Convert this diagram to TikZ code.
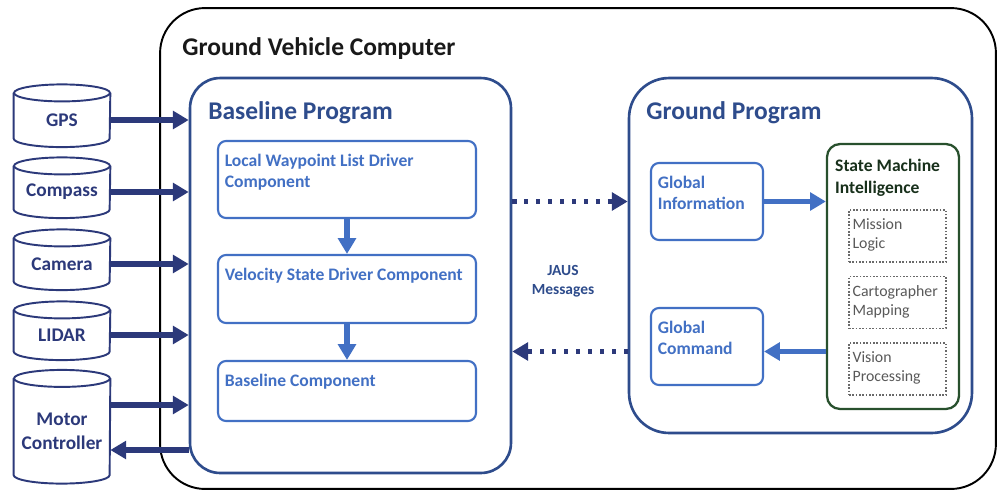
\documentclass[tikz,border=0pt]{standalone}
\usepackage{fontspec}
\setmainfont{Carlito}
\usetikzlibrary{arrows.meta}
\definecolor{navy}{RGB}{44,57,122}
\definecolor{progblue}{RGB}{46,76,140}
\definecolor{compblue}{RGB}{66,112,196}
\definecolor{smigreen}{RGB}{40,80,45}
\definecolor{subgray}{RGB}{105,105,105}

\begin{document}
\begin{tikzpicture}[x=0.02cm,y=-0.02cm]
\tikzstyle{titre}=[inner sep=0pt,anchor=west,font=\fontsize{14.5}{17}\selectfont\bfseries]
\tikzset{cadre/.style={draw=#1,inner sep=0pt},
comp/.style={draw=compblue,line width=1.2pt,rounded corners=0.16cm,inner sep=0pt,minimum height=#1},
comptext/.style={anchor=north west,align=left,inner sep=0pt,xshift=0.15cm,yshift=-0.27cm,text=compblue,font=\fontsize{10}{12}\selectfont\bfseries},
smitext/.style={anchor=north west,align=left,inner sep=0pt,xshift=0.18cm,yshift=-0.31cm,text=smigreen!60!black,font=\fontsize{10}{13}\selectfont\bfseries},
sub/.style={draw=subgray,densely dotted,line width=0.9pt,minimum width=1.94cm,minimum height=1.04cm,inner sep=0pt},
subtext/.style={anchor=north west,align=left,inner sep=0pt,xshift=0.08cm,yshift=-0.19cm,text=subgray!85!black,font=\fontsize{9}{10.8}\selectfont},
capteur/.style={minimum width=1.92cm,minimum height=#1,inner sep=0pt,align=center,text=navy,font=\fontsize{11}{13.6}\selectfont\bfseries},
cyl/.style={draw=navy,line width=1.1pt},
entree/.style={draw=navy,line width=3.6pt,-{Triangle[width=10pt,length=9pt]}},
fleche/.style={draw=compblue,line width=3.4pt,-{Triangle[width=10pt,length=9pt]}},
jaus/.style={draw=navy,line width=2.4pt,dash pattern=on 2.4pt off 4.4pt,-{Triangle[width=10pt,length=9pt]}}}
\useasboundingbox (0,0) rectangle (998,491);
\fill[white] (0,0) rectangle (998,491);

% cadres principaux
\node[cadre=black,line width=1.1pt,rounded corners=0.9cm,minimum width=16.72cm,minimum height=9.62cm] (gvc) at (578,248.5) {};
\node[titre,text=black!90] (gvct) at (182,48.5) {Ground Vehicle Computer};
\node[cadre=progblue,line width=1.5pt,rounded corners=0.6cm,minimum width=6.42cm,minimum height=7.9cm] (base) at (350.5,275.5) {};
\node[titre,text=progblue] (baset) at (208,112.5) {Baseline Program};
\node[cadre=progblue,line width=1.5pt,rounded corners=0.8cm,minimum width=6.86cm,minimum height=7.1cm] (gp) at (800.5,255.5) {};
\node[titre,text=progblue] (gpt) at (646,112.5) {Ground Program};

% composants
\node[comp=1.54cm,minimum width=5.16cm,label={[comptext]north west:Local Waypoint List Driver\\Component}] (lwp) at (347,179.5) {};
\node[comp=1.36cm,minimum width=5.16cm,label={[comptext]north west:Velocity State Driver Component}] (vsd) at (347,289) {};
\node[comp=1.2cm,minimum width=5.16cm,label={[comptext]north west:Baseline Component}] (bc) at (347,391) {};
\node[comp=1.54cm,minimum width=2.24cm,label={[comptext]north west:Global\\Information}] (ginfo) at (707,201.5) {};
\node[comp=1.54cm,minimum width=2.24cm,label={[comptext]north west:Global\\Command}] (gcmd) at (707,346.5) {};

\node[cadre=smigreen,line width=1.3pt,rounded corners=0.26cm,minimum width=2.64cm,minimum height=5.3cm,label={[smitext]north west:State Machine\\Intelligence}] (smi) at (893,276.5) {};
\node[sub,label={[subtext]north west:Mission\\Logic}] (mission) at (897.5,236) {};
\node[sub,label={[subtext]north west:Cartographer\\Mapping}] (carto) at (897.5,302.5) {};
\node[sub,label={[subtext]north west:Vision\\Processing}] (vision) at (897.5,369) {};

% capteurs
\node[capteur=1.07cm] (gps) at (62,120) {GPS};
\node[capteur=1.03cm] (compass) at (62,192) {Compass};
\node[capteur=1.03cm] (camera) at (62,264) {Camera};
\node[capteur=0.99cm] (lidar) at (62,335) {LIDAR};
\node[capteur=2.09cm] (motor) at (62,431) {Motor\\Controller};
\foreach \c in {gps,compass,camera,lidar,motor}{
  \draw[cyl] (\c.north west) -- ([yshift=0.17cm]\c.south west) arc[start angle=180,end angle=360,x radius=0.96cm,y radius=0.17cm] -- (\c.north east);
  \draw[cyl] (\c.north) ellipse[x radius=0.96cm,y radius=0.17cm];
}

\node[font=\fontsize{8.8}{10.8}\selectfont\bfseries,text=progblue,align=center] (jaustext) at (563,281) {JAUS\\Messages};

% fleches
\draw[entree] (gps.east) -- (gps.east -| base.west);
\draw[entree] (compass.east) -- (compass.east -| base.west);
\draw[entree] (camera.east) -- (camera.east -| base.west);
\draw[entree] (lidar.east) -- (lidar.east -| base.west);
\draw[entree] ([yshift=0.52cm]motor.east) -- ([yshift=0.52cm]motor.east -| base.west);
\draw[entree] ([yshift=-0.38cm]motor.east -| base.west) -- ([yshift=-0.38cm]motor.east);

\draw[fleche] (lwp.south) -- (vsd.north);
\draw[fleche] (vsd.south) -- (bc.north);
\draw[fleche] (ginfo.east) -- (ginfo.east -| smi.west);
\draw[fleche] ([yshift=-0.1cm]gcmd.east -| smi.west) -- ([yshift=-0.1cm]gcmd.east);

\draw[jaus] (ginfo.west -| base.east) -- (ginfo.west -| gp.west);
\draw[jaus] ([yshift=-0.1cm]gcmd.west -| gp.west) -- ([yshift=-0.1cm]gcmd.west -| base.east);

\end{tikzpicture}
\end{document}
